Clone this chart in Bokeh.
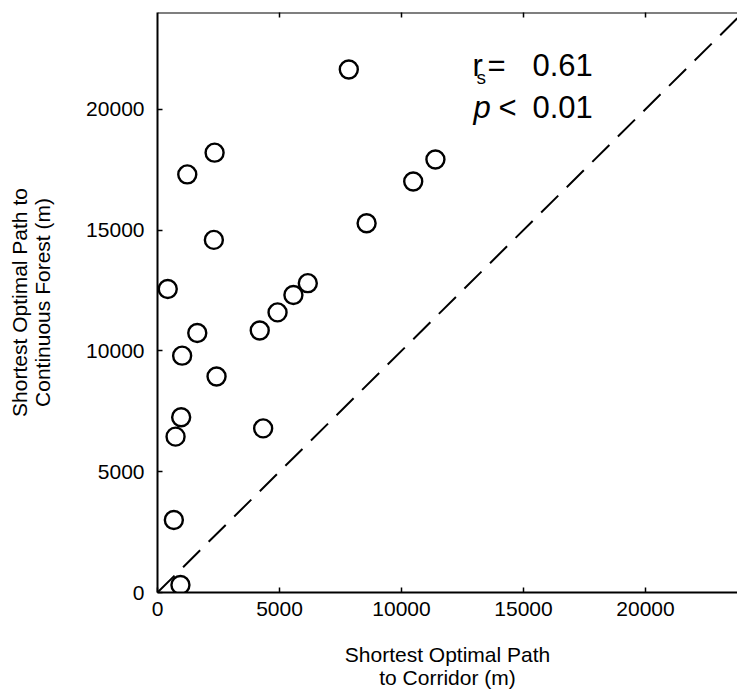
import math
from bokeh.plotting import figure
from bokeh.models import Label, FixedTicker, Range1d, Slope, Span
from bokeh.embed import file_html
from bokeh.resources import INLINE

# Shortest optimal path to corridor (m)
corridor = [7840, 2340, 1220, 8570, 2310, 420, 1630, 1010, 2420, 4190,
            4920, 5570, 6160, 10480, 11390, 970, 740, 4330, 670, 940]
# Shortest optimal path to continuous forest (m)
forest = [21640, 18200, 17300, 15280, 14590, 12560, 10740, 9800, 8940, 10840,
          11590, 12310, 12800, 17010, 17920, 7250, 6450, 6790, 3000, 310]
ticks = [0, 5000, 10000, 15000, 20000]
x_max = 23770
y_max = 24000

FONT = "Liberation Sans"

p = figure(width=737, height=696, output_backend="svg", toolbar_location=None,
           x_range=Range1d(0, x_max), y_range=Range1d(0, y_max),
           min_border_left=157, min_border_right=0, min_border_top=12,
           min_border_bottom=104)
p.grid.visible = False
p.outline_line_color = None
p.background_fill_color = "white"
p.border_fill_color = "white"

xax = p.below[0]
yax = p.left[0]

for ax in [xax, yax]:
    ax.ticker = FixedTicker(ticks=ticks)
    ax.axis_line_width = 2
    ax.axis_line_color = "black"
    ax.major_tick_in = 5
    ax.major_tick_out = 0
    ax.major_tick_line_width = 1.5
    ax.major_tick_line_color = "black"
    ax.minor_tick_in = 0
    ax.minor_tick_out = 0
    ax.major_label_text_font = FONT
    ax.major_label_text_font_size = "21px"
    ax.major_label_text_color = "black"
    ax.axis_label_text_font = FONT
    ax.axis_label_text_font_size = "21px"
    ax.axis_label_text_font_style = "normal"
    ax.axis_label_text_color = "black"
    ax.axis_label_text_line_height = 1.02

xax.major_label_standoff = 9
yax.major_label_standoff = 13
xax.axis_label = "Shortest Optimal Path\nto Corridor (m)"
xax.axis_label_standoff = 24
yax.axis_label = "Shortest Optimal Path to\nContinuous Forest (m)"
yax.axis_label_standoff = 29

# top border with inward ticks
p.add_layout(Span(location=y_max, dimension="width", line_color="black",
                  line_width=2))
p.scatter(x=ticks[1:], y=[y_max] * (len(ticks) - 1), marker="dash",
          angle=math.pi / 2, size=10, line_color="black", line_width=1.5)

p.add_layout(Slope(gradient=1, y_intercept=0, line_color="black",
                   line_width=2, line_dash="24 12"))

p.scatter(corridor, forest, marker="circle", size=18, line_color="black",
          line_width=2.4, fill_color=None)

def lab(x, y, t, size="31px", style="normal"):
    p.add_layout(Label(x=x, y=y, text=t, text_font=FONT, text_font_size=size,
                       text_font_style=style, text_color="black",
                       text_baseline="alphabetic", text_align="left"))

lab(12910, 21810, "r")
lab(13070, 21310, "s", size="19px")
lab(13525, 21810, "=")
lab(15369, 21810, "0.61")
lab(12951, 20070, "p", style="italic")
lab(13975, 20070, "<")
lab(15369, 20070, "0.01")

open("out.html", "w").write(file_html(p, INLINE))
